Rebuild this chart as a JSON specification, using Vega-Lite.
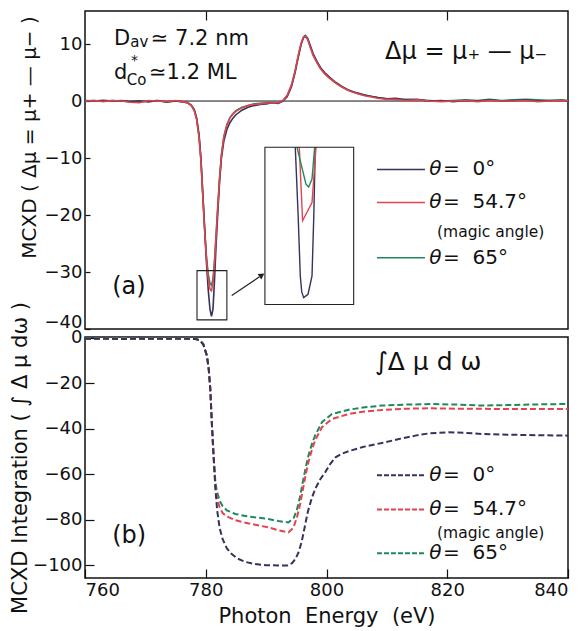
{
"$schema":"https://vega.github.io/schema/vega-lite/v6.json",
"padding":{"left":8,"top":9,"right":12,"bottom":5},
"bounds":"flush",
"spacing":8,
"config":{"font":"DejaVu Sans","view":{"stroke":"#111","strokeWidth":1.5},
 "axis":{"domain":false,"grid":false,"tickColor":"#111","tickWidth":1.2,"labelColor":"#111","titleColor":"#111","labelFontSize":18,"titleFontWeight":"normal"},
 "text":{"font":"DejaVu Sans","color":"#111"}},
"datasets":{
"top":[
{"E":760,"v":0.05,"s":"c"},{"E":761.5,"v":0.1,"s":"c"},{"E":763,"v":0.0,"s":"c"},{"E":764.5,"v":0.1,"s":"c"},{"E":766,"v":0.0,"s":"c"},{"E":767.5,"v":-0.1,"s":"c"},{"E":769,"v":-0.2,"s":"c"},{"E":770.5,"v":0.0,"s":"c"},{"E":772,"v":0.1,"s":"c"},{"E":773.5,"v":-0.1,"s":"c"},{"E":775,"v":0.0,"s":"c"},{"E":776,"v":-0.1,"s":"c"},{"E":777,"v":-0.3,"s":"c"},{"E":777.6,"v":-0.8,"s":"c"},{"E":778.1,"v":-1.6,"s":"c"},{"E":778.5,"v":-3.2,"s":"c"},{"E":778.9,"v":-6.3,"s":"c"},{"E":779.2,"v":-10.3,"s":"c"},{"E":779.5,"v":-16.2,"s":"c"},{"E":779.8,"v":-22,"s":"c"},{"E":780.1,"v":-27,"s":"c"},{"E":780.4,"v":-30.3,"s":"c"},{"E":780.7,"v":-32,"s":"c"},{"E":780.95,"v":-32.3,"s":"c"},{"E":781.2,"v":-31.2,"s":"c"},{"E":781.45,"v":-28,"s":"c"},{"E":781.7,"v":-23.6,"s":"c"},{"E":782.0,"v":-18.3,"s":"c"},{"E":782.3,"v":-13.3,"s":"c"},{"E":782.6,"v":-9.4,"s":"c"},{"E":783.0,"v":-6.2,"s":"c"},{"E":783.5,"v":-4.1,"s":"c"},{"E":784,"v":-2.9,"s":"c"},{"E":784.5,"v":-2.2,"s":"c"},{"E":785,"v":-1.7,"s":"c"},{"E":786,"v":-1.1,"s":"c"},{"E":787,"v":-0.8,"s":"c"},{"E":788,"v":-0.5,"s":"c"},{"E":789,"v":-0.4,"s":"c"},{"E":790,"v":-0.3,"s":"c"},{"E":791,"v":-0.2,"s":"c"},{"E":792,"v":-0.3,"s":"c"},{"E":792.8,"v":0.1,"s":"c"},{"E":793.5,"v":1.0,"s":"c"},{"E":794.2,"v":2.8,"s":"c"},{"E":794.8,"v":5.3,"s":"c"},{"E":795.3,"v":7.8,"s":"c"},{"E":795.8,"v":10.0,"s":"c"},{"E":796.2,"v":11.1,"s":"c"},{"E":796.5,"v":11.3,"s":"c"},{"E":796.9,"v":10.8,"s":"c"},{"E":797.3,"v":9.5,"s":"c"},{"E":797.8,"v":8.0,"s":"c"},{"E":798.4,"v":6.8,"s":"c"},{"E":799,"v":5.7,"s":"c"},{"E":799.7,"v":4.8,"s":"c"},{"E":800.5,"v":4.0,"s":"c"},{"E":801.5,"v":3.2,"s":"c"},{"E":802.5,"v":2.5,"s":"c"},{"E":803.5,"v":2.0,"s":"c"},{"E":804.5,"v":1.6,"s":"c"},{"E":805.5,"v":1.2,"s":"c"},{"E":806.5,"v":1.0,"s":"c"},{"E":807.5,"v":0.8,"s":"c"},{"E":808.5,"v":0.6,"s":"c"},{"E":810,"v":0.4,"s":"c"},{"E":811.5,"v":0.3,"s":"c"},{"E":813,"v":0.3,"s":"c"},{"E":815,"v":0.2,"s":"c"},{"E":817,"v":0.1,"s":"c"},{"E":819,"v":0.0,"s":"c"},{"E":821,"v":0.1,"s":"c"},{"E":823,"v":0.2,"s":"c"},{"E":825,"v":0.1,"s":"c"},{"E":827,"v":0.3,"s":"c"},{"E":829,"v":0.1,"s":"c"},{"E":831,"v":0.2,"s":"c"},{"E":833,"v":0.3,"s":"c"},{"E":835,"v":0.2,"s":"c"},{"E":837,"v":0.1,"s":"c"},{"E":839,"v":0.2,"s":"c"},{"E":840,"v":0.1,"s":"c"},
{"E":760,"v":0.1,"s":"a"},{"E":761.5,"v":0.0,"s":"a"},{"E":763,"v":0.15,"s":"a"},{"E":764.5,"v":0.0,"s":"a"},{"E":766,"v":0.1,"s":"a"},{"E":767.5,"v":-0.1,"s":"a"},{"E":769,"v":0.05,"s":"a"},{"E":770.5,"v":-0.15,"s":"a"},{"E":772,"v":0.1,"s":"a"},{"E":773.5,"v":-0.2,"s":"a"},{"E":775,"v":0.0,"s":"a"},{"E":776,"v":-0.1,"s":"a"},{"E":777,"v":-0.3,"s":"a"},{"E":777.6,"v":-0.7,"s":"a"},{"E":778.1,"v":-1.5,"s":"a"},{"E":778.5,"v":-3,"s":"a"},{"E":778.9,"v":-6,"s":"a"},{"E":779.2,"v":-10,"s":"a"},{"E":779.5,"v":-16,"s":"a"},{"E":779.8,"v":-22,"s":"a"},{"E":780.1,"v":-28,"s":"a"},{"E":780.4,"v":-33,"s":"a"},{"E":780.7,"v":-36.5,"s":"a"},{"E":780.95,"v":-37.8,"s":"a"},{"E":781.2,"v":-36.5,"s":"a"},{"E":781.45,"v":-31.5,"s":"a"},{"E":781.7,"v":-25.5,"s":"a"},{"E":782.0,"v":-19.5,"s":"a"},{"E":782.3,"v":-14,"s":"a"},{"E":782.6,"v":-10,"s":"a"},{"E":783.0,"v":-7,"s":"a"},{"E":783.5,"v":-5,"s":"a"},{"E":784,"v":-3.8,"s":"a"},{"E":784.5,"v":-3,"s":"a"},{"E":785,"v":-2.4,"s":"a"},{"E":786,"v":-1.6,"s":"a"},{"E":787,"v":-1.1,"s":"a"},{"E":788,"v":-0.8,"s":"a"},{"E":789,"v":-0.6,"s":"a"},{"E":790,"v":-0.5,"s":"a"},{"E":791,"v":-0.3,"s":"a"},{"E":792,"v":-0.4,"s":"a"},{"E":792.8,"v":0.0,"s":"a"},{"E":793.5,"v":0.8,"s":"a"},{"E":794.2,"v":2.5,"s":"a"},{"E":794.8,"v":5.0,"s":"a"},{"E":795.3,"v":7.6,"s":"a"},{"E":795.8,"v":10.0,"s":"a"},{"E":796.2,"v":11.2,"s":"a"},{"E":796.5,"v":11.5,"s":"a"},{"E":796.9,"v":11.0,"s":"a"},{"E":797.3,"v":9.8,"s":"a"},{"E":797.8,"v":8.3,"s":"a"},{"E":798.4,"v":7.0,"s":"a"},{"E":799,"v":5.9,"s":"a"},{"E":799.7,"v":5.0,"s":"a"},{"E":800.5,"v":4.2,"s":"a"},{"E":801.5,"v":3.3,"s":"a"},{"E":802.5,"v":2.6,"s":"a"},{"E":803.5,"v":2.0,"s":"a"},{"E":804.5,"v":1.6,"s":"a"},{"E":805.5,"v":1.3,"s":"a"},{"E":806.5,"v":1.0,"s":"a"},{"E":807.5,"v":0.8,"s":"a"},{"E":808.5,"v":0.6,"s":"a"},{"E":810,"v":0.4,"s":"a"},{"E":811.5,"v":0.5,"s":"a"},{"E":813,"v":0.2,"s":"a"},{"E":815,"v":0.3,"s":"a"},{"E":817,"v":0.0,"s":"a"},{"E":819,"v":0.1,"s":"a"},{"E":821,"v":-0.1,"s":"a"},{"E":823,"v":0.1,"s":"a"},{"E":825,"v":0.0,"s":"a"},{"E":827,"v":0.2,"s":"a"},{"E":829,"v":0.0,"s":"a"},{"E":831,"v":0.1,"s":"a"},{"E":833,"v":0.2,"s":"a"},{"E":835,"v":0.0,"s":"a"},{"E":837,"v":0.1,"s":"a"},{"E":839,"v":0.1,"s":"a"},{"E":840,"v":0.0,"s":"a"},
{"E":760,"v":0.0,"s":"b"},{"E":761.5,"v":0.1,"s":"b"},{"E":763,"v":-0.1,"s":"b"},{"E":764.5,"v":0.1,"s":"b"},{"E":766,"v":0.0,"s":"b"},{"E":767.5,"v":-0.2,"s":"b"},{"E":769,"v":-0.3,"s":"b"},{"E":770.5,"v":0.1,"s":"b"},{"E":772,"v":0.0,"s":"b"},{"E":773.5,"v":-0.1,"s":"b"},{"E":775,"v":0.1,"s":"b"},{"E":776,"v":-0.1,"s":"b"},{"E":777,"v":-0.3,"s":"b"},{"E":777.6,"v":-0.8,"s":"b"},{"E":778.1,"v":-1.7,"s":"b"},{"E":778.5,"v":-3.3,"s":"b"},{"E":778.9,"v":-6.5,"s":"b"},{"E":779.2,"v":-10.5,"s":"b"},{"E":779.5,"v":-16.5,"s":"b"},{"E":779.8,"v":-22.5,"s":"b"},{"E":780.1,"v":-27.5,"s":"b"},{"E":780.4,"v":-31,"s":"b"},{"E":780.7,"v":-33,"s":"b"},{"E":780.95,"v":-33.3,"s":"b"},{"E":781.2,"v":-32,"s":"b"},{"E":781.45,"v":-28.5,"s":"b"},{"E":781.7,"v":-24,"s":"b"},{"E":782.0,"v":-18.5,"s":"b"},{"E":782.3,"v":-13.5,"s":"b"},{"E":782.6,"v":-9.5,"s":"b"},{"E":783.0,"v":-6.3,"s":"b"},{"E":783.5,"v":-4.2,"s":"b"},{"E":784,"v":-3.0,"s":"b"},{"E":784.5,"v":-2.3,"s":"b"},{"E":785,"v":-1.8,"s":"b"},{"E":786,"v":-1.2,"s":"b"},{"E":787,"v":-0.8,"s":"b"},{"E":788,"v":-0.6,"s":"b"},{"E":789,"v":-0.5,"s":"b"},{"E":790,"v":-0.4,"s":"b"},{"E":791,"v":-0.3,"s":"b"},{"E":792,"v":-0.3,"s":"b"},{"E":792.8,"v":0.1,"s":"b"},{"E":793.5,"v":1.0,"s":"b"},{"E":794.2,"v":2.8,"s":"b"},{"E":794.8,"v":5.3,"s":"b"},{"E":795.3,"v":7.9,"s":"b"},{"E":795.8,"v":10.2,"s":"b"},{"E":796.2,"v":11.3,"s":"b"},{"E":796.5,"v":11.4,"s":"b"},{"E":796.9,"v":10.8,"s":"b"},{"E":797.3,"v":9.5,"s":"b"},{"E":797.8,"v":8.0,"s":"b"},{"E":798.4,"v":6.8,"s":"b"},{"E":799,"v":5.7,"s":"b"},{"E":799.7,"v":4.8,"s":"b"},{"E":800.5,"v":4.0,"s":"b"},{"E":801.5,"v":3.2,"s":"b"},{"E":802.5,"v":2.5,"s":"b"},{"E":803.5,"v":1.9,"s":"b"},{"E":804.5,"v":1.5,"s":"b"},{"E":805.5,"v":1.2,"s":"b"},{"E":806.5,"v":0.9,"s":"b"},{"E":807.5,"v":0.7,"s":"b"},{"E":808.5,"v":0.5,"s":"b"},{"E":810,"v":0.3,"s":"b"},{"E":811.5,"v":0.3,"s":"b"},{"E":813,"v":0.1,"s":"b"},{"E":815,"v":0.2,"s":"b"},{"E":817,"v":0.0,"s":"b"},{"E":819,"v":-0.1,"s":"b"},{"E":821,"v":0.0,"s":"b"},{"E":823,"v":0.1,"s":"b"},{"E":825,"v":-0.1,"s":"b"},{"E":827,"v":0.1,"s":"b"},{"E":829,"v":0.0,"s":"b"},{"E":831,"v":0.0,"s":"b"},{"E":833,"v":0.1,"s":"b"},{"E":835,"v":-0.1,"s":"b"},{"E":837,"v":0.0,"s":"b"},{"E":839,"v":0.1,"s":"b"},{"E":840,"v":0.0,"s":"b"}
],
"inset":[
{"E":794.83,"v":-8.1,"s":"a"},{"E":795.3,"v":-20,"s":"a"},{"E":795.66,"v":-30.7,"s":"a"},{"E":795.9,"v":-33.5,"s":"a"},{"E":796.22,"v":-34.5,"s":"a"},{"E":796.94,"v":-33.9,"s":"a"},{"E":797.6,"v":-30.7,"s":"a"},{"E":797.9,"v":-20,"s":"a"},{"E":798.14,"v":-8.1,"s":"a"},
{"E":795.49,"v":-8.1,"s":"b"},{"E":796.04,"v":-21.0,"s":"b"},{"E":797.6,"v":-17.8,"s":"b"},{"E":798.26,"v":-8.1,"s":"b"},
{"E":795.11,"v":-8.1,"s":"c"},{"E":796.6,"v":-14.6,"s":"c"},{"E":797.04,"v":-15.1,"s":"c"},{"E":797.6,"v":-13.7,"s":"c"},{"E":798.04,"v":-8.1,"s":"c"}
],
"bot":[
{"E":760,"v":-0.2,"s":"c"},{"E":763,"v":-0.3,"s":"c"},{"E":766,"v":-0.1,"s":"c"},{"E":769,"v":-0.3,"s":"c"},{"E":772,"v":-0.2,"s":"c"},{"E":775,"v":-0.3,"s":"c"},{"E":777,"v":-0.2,"s":"c"},{"E":778.3,"v":-0.4,"s":"c"},{"E":779,"v":-1.0,"s":"c"},{"E":779.6,"v":-2.8,"s":"c"},{"E":780.2,"v":-8,"s":"c"},{"E":780.5,"v":-14,"s":"c"},{"E":780.75,"v":-22.5,"s":"c"},{"E":781.0,"v":-37,"s":"c"},{"E":781.3,"v":-52,"s":"c"},{"E":781.6,"v":-63.5,"s":"c"},{"E":781.9,"v":-68,"s":"c"},{"E":782.3,"v":-71.5,"s":"c"},{"E":782.8,"v":-74,"s":"c"},{"E":783.5,"v":-75.8,"s":"c"},{"E":784.9,"v":-77.4,"s":"c"},{"E":787,"v":-78.5,"s":"c"},{"E":790.4,"v":-79.6,"s":"c"},{"E":792,"v":-80.5,"s":"c"},{"E":793.7,"v":-81.1,"s":"c"},{"E":794.6,"v":-79,"s":"c"},{"E":795.1,"v":-75.5,"s":"c"},{"E":795.6,"v":-70,"s":"c"},{"E":796.1,"v":-63,"s":"c"},{"E":796.6,"v":-56.5,"s":"c"},{"E":797.0,"v":-51.8,"s":"c"},{"E":797.6,"v":-46.5,"s":"c"},{"E":798.1,"v":-43,"s":"c"},{"E":799.25,"v":-37.1,"s":"c"},{"E":800.9,"v":-33.5,"s":"c"},{"E":803.7,"v":-31.6,"s":"c"},{"E":806,"v":-30.7,"s":"c"},{"E":809.2,"v":-29.8,"s":"c"},{"E":813,"v":-29.4,"s":"c"},{"E":817.5,"v":-29.1,"s":"c"},{"E":822,"v":-29.4,"s":"c"},{"E":825.8,"v":-29.8,"s":"c"},{"E":830,"v":-29.6,"s":"c"},{"E":835,"v":-29.3,"s":"c"},{"E":840,"v":-29.1,"s":"c"},
{"E":760,"v":-0.6,"s":"b"},{"E":763,"v":-0.5,"s":"b"},{"E":766,"v":-0.4,"s":"b"},{"E":769,"v":-0.6,"s":"b"},{"E":772,"v":-0.4,"s":"b"},{"E":775,"v":-0.5,"s":"b"},{"E":777,"v":-0.4,"s":"b"},{"E":778.3,"v":-0.6,"s":"b"},{"E":779,"v":-1.2,"s":"b"},{"E":779.6,"v":-3,"s":"b"},{"E":780.2,"v":-8,"s":"b"},{"E":780.5,"v":-14,"s":"b"},{"E":780.75,"v":-22.5,"s":"b"},{"E":781.0,"v":-37,"s":"b"},{"E":781.3,"v":-52,"s":"b"},{"E":781.6,"v":-65,"s":"b"},{"E":781.9,"v":-70.5,"s":"b"},{"E":782.3,"v":-74.5,"s":"b"},{"E":782.8,"v":-77,"s":"b"},{"E":783.5,"v":-78.5,"s":"b"},{"E":784.9,"v":-80.1,"s":"b"},{"E":787,"v":-81.5,"s":"b"},{"E":790.4,"v":-83.3,"s":"b"},{"E":792,"v":-84.5,"s":"b"},{"E":793.7,"v":-85.5,"s":"b"},{"E":794.5,"v":-83.5,"s":"b"},{"E":795.1,"v":-79,"s":"b"},{"E":795.6,"v":-73.5,"s":"b"},{"E":796.1,"v":-66.5,"s":"b"},{"E":796.6,"v":-59.5,"s":"b"},{"E":797.0,"v":-54.7,"s":"b"},{"E":797.6,"v":-49,"s":"b"},{"E":798.1,"v":-45.2,"s":"b"},{"E":799.25,"v":-39.3,"s":"b"},{"E":800.9,"v":-35.7,"s":"b"},{"E":803.7,"v":-33.5,"s":"b"},{"E":806,"v":-32.5,"s":"b"},{"E":809.2,"v":-31.7,"s":"b"},{"E":813,"v":-31.2,"s":"b"},{"E":817.5,"v":-31,"s":"b"},{"E":822,"v":-31.2,"s":"b"},{"E":830,"v":-31.3,"s":"b"},{"E":835,"v":-31.3,"s":"b"},{"E":840,"v":-31.3,"s":"b"},
{"E":760,"v":-0.5,"s":"a"},{"E":763,"v":-0.4,"s":"a"},{"E":766,"v":-0.6,"s":"a"},{"E":769,"v":-0.4,"s":"a"},{"E":772,"v":-0.5,"s":"a"},{"E":775,"v":-0.4,"s":"a"},{"E":777,"v":-0.5,"s":"a"},{"E":778.3,"v":-0.6,"s":"a"},{"E":779,"v":-1.2,"s":"a"},{"E":779.6,"v":-3,"s":"a"},{"E":780.2,"v":-8,"s":"a"},{"E":780.5,"v":-14,"s":"a"},{"E":780.75,"v":-22.5,"s":"a"},{"E":781.0,"v":-37,"s":"a"},{"E":781.3,"v":-52,"s":"a"},{"E":781.6,"v":-66.5,"s":"a"},{"E":781.9,"v":-76,"s":"a"},{"E":782.3,"v":-83.5,"s":"a"},{"E":782.8,"v":-88.5,"s":"a"},{"E":783.5,"v":-92.5,"s":"a"},{"E":784.3,"v":-95,"s":"a"},{"E":785.3,"v":-97,"s":"a"},{"E":786.5,"v":-98.4,"s":"a"},{"E":788.2,"v":-99.4,"s":"a"},{"E":790,"v":-99.9,"s":"a"},{"E":792,"v":-100,"s":"a"},{"E":793.5,"v":-100,"s":"a"},{"E":794.3,"v":-99,"s":"a"},{"E":794.9,"v":-97,"s":"a"},{"E":795.4,"v":-94,"s":"a"},{"E":795.9,"v":-89.5,"s":"a"},{"E":796.4,"v":-83,"s":"a"},{"E":796.9,"v":-76.5,"s":"a"},{"E":797.5,"v":-71,"s":"a"},{"E":798.1,"v":-66.5,"s":"a"},{"E":799,"v":-62,"s":"a"},{"E":799.8,"v":-59,"s":"a"},{"E":800.6,"v":-55.5,"s":"a"},{"E":801.5,"v":-52.5,"s":"a"},{"E":802.5,"v":-51,"s":"a"},{"E":803.7,"v":-49.8,"s":"a"},{"E":806,"v":-48,"s":"a"},{"E":809.2,"v":-46.2,"s":"a"},{"E":812,"v":-44.5,"s":"a"},{"E":814.7,"v":-43,"s":"a"},{"E":817,"v":-42,"s":"a"},{"E":820.2,"v":-41.5,"s":"a"},{"E":823,"v":-41.8,"s":"a"},{"E":825.8,"v":-42.3,"s":"a"},{"E":830,"v":-42.6,"s":"a"},{"E":835,"v":-42.8,"s":"a"},{"E":840,"v":-43,"s":"a"}
]
},
"vconcat":[
{
"width":483,"height":318,
"encoding":{
 "x":{"field":"E","type":"quantitative","scale":{"domain":[760,840],"nice":false,"zero":false},
  "axis":{"orient":"top","labels":false,"title":null,"values":[780,800,820],"tickSize":-9}},
 "y":{"field":"v","type":"quantitative","scale":{"domain":[-40,15.8],"nice":false,"zero":false},
  "axis":{"title":"MCXD ( Δμ\u00a0=\u00a0μ+\u00a0—\u00a0μ− )","values":[-40,-30,-20,-10,0,10],"tickSize":-5,"labelPadding":8,"labelFlush":true,"labelFlushOffset":2,"titleFontSize":20,"titlePadding":5,"titleY":126}}
},
"layer":[
 {"data":{"values":[{"E":760,"E2":840,"v":0}]},"mark":{"type":"rule","color":"#111","strokeWidth":1},"encoding":{"x2":{"field":"E2"}}},
 {"data":{"name":"top"},"mark":{"type":"line","strokeWidth":1.6},
  "encoding":{"color":{"field":"s","type":"nominal","scale":{"domain":["a","b","c"],"range":["#33335c","#e3424e","#1e8a5c"]},"legend":null}}},
 {"data":{"name":"inset"},"mark":{"type":"line","strokeWidth":1.4},
  "encoding":{"color":{"field":"s","type":"nominal","scale":{"domain":["a","b","c"],"range":["#33335c","#e3424e","#1e8a5c"]},"legend":null}}},
 {"data":{"values":[{"E":789.8,"E2":804.5,"v":-8.1,"v2":-35.7},{"E":778.55,"E2":783.5,"v":-29.75,"v2":-38.4}]},
  "mark":{"type":"rect","filled":false,"color":"#222","strokeWidth":1.1},
  "encoding":{"x2":{"field":"E2"},"y2":{"field":"v2"}}},
 {"data":{"values":[{"E":784.3,"v":-34.1},{"E":788.9,"v":-30.85}]},"mark":{"type":"line","color":"#222","strokeWidth":1.2}},
 {"data":{"values":[{"E":789.3,"v":-30.55}]},"mark":{"type":"point","shape":"triangle-up","angle":57,"size":45,"filled":true,"color":"#222","opacity":1}},
 {"data":{"values":[{"E":808.36,"E2":816.31,"v":-12.0,"s":"a"},{"E":808.36,"E2":816.31,"v":-17.8,"s":"b"},{"E":808.36,"E2":816.31,"v":-27.5,"s":"c"}]},
  "mark":{"type":"rule","strokeWidth":1.6},
  "encoding":{"x2":{"field":"E2"},"color":{"field":"s","type":"nominal","scale":{"domain":["a","b","c"],"range":["#33335c","#e3424e","#1e8a5c"]},"legend":null}}},
 {"data":{"values":[{"E":817.0,"v":-12.0,"t":"θ"},{"E":817.0,"v":-17.8,"t":"θ"},{"E":817.0,"v":-27.5,"t":"θ"}]},
  "mark":{"type":"text","fontSize":20,"fontStyle":"italic","align":"left","baseline":"middle"},"encoding":{"text":{"field":"t"}}},
 {"data":{"values":[{"E":819.3,"v":-12.0,"t":"=\u00a0 0°"},{"E":819.3,"v":-17.8,"t":"=\u00a0 54.7°"},{"E":819.3,"v":-27.5,"t":"=\u00a0 65°"}]},
  "mark":{"type":"text","fontSize":20,"align":"left","baseline":"middle"},"encoding":{"text":{"field":"t"}}},
 {"data":{"values":[{"E":818.3,"v":-23.0,"t":"(magic angle)"}]},
  "mark":{"type":"text","fontSize":15.5,"align":"left","baseline":"middle"},"encoding":{"text":{"field":"t"}}},
 {"data":{"values":[{"E":764.8,"v":9.9,"t":"D"},{"E":770.9,"v":9.9,"t":"≃ 7.2 nm"},{"E":764.8,"v":3.9,"t":"d"},{"E":770.6,"v":3.9,"t":"≃1.2 ML"}]},
  "mark":{"type":"text","fontSize":21,"align":"left","baseline":"alphabetic"},"encoding":{"text":{"field":"t"}}},
 {"data":{"values":[{"E":767.5,"v":9.4,"t":"av"},{"E":766.9,"v":2.9,"t":"Co"}]},
  "mark":{"type":"text","fontSize":15,"align":"left","baseline":"alphabetic"},"encoding":{"text":{"field":"t"}}},
 {"data":{"values":[{"E":767.6,"v":6.4,"t":"*"}]},
  "mark":{"type":"text","fontSize":14,"align":"left","baseline":"alphabetic"},"encoding":{"text":{"field":"t"}}},
 {"data":{"values":[{"E":809.7,"v":8.6,"t":"Δμ = μ₊ — μ₋"}]},
  "mark":{"type":"text","fontSize":24,"align":"left","baseline":"middle"},"encoding":{"text":{"field":"t"}}},
 {"data":{"values":[{"E":764.5,"v":-32.7,"t":"(a)"}]},
  "mark":{"type":"text","fontSize":24,"align":"left","baseline":"middle"},"encoding":{"text":{"field":"t"}}}
]
},
{
"width":483,"height":241,
"encoding":{
 "x":{"field":"E","type":"quantitative","scale":{"domain":[760,840],"nice":false,"zero":false},
  "axis":{"title":"Photon\u00a0 Energy\u00a0 (eV)","values":[760,780,800,820,840],"tickSize":-9,"labelPadding":12,"titleFontSize":21,"titlePadding":6}},
 "y":{"field":"v","type":"quantitative","scale":{"domain":[-105.5,0.3],"nice":false,"zero":false},
  "axis":{"title":"MCXD Integration ( ∫\u00a0Δ\u00a0μ\u00a0dω )","values":[-100,-80,-60,-40,-20,0],"tickSize":-9,"labelPadding":12,"titleFontSize":21,"titlePadding":2}}
},
"layer":[
 {"data":{"name":"bot"},"mark":{"type":"line","strokeWidth":2,"strokeDash":[6,3]},
  "encoding":{"color":{"field":"s","type":"nominal","scale":{"domain":["a","b","c"],"range":["#3d3d6e","#e3424e","#1e8a5c"]},"legend":null}}},
 {"data":{"values":[{"E":808.36,"E2":816.31,"v":-60.4,"s":"a"},{"E":808.36,"E2":816.31,"v":-75.4,"s":"b"},{"E":808.36,"E2":816.31,"v":-94.6,"s":"c"}]},
  "mark":{"type":"rule","strokeWidth":2,"strokeDash":[5,2]},
  "encoding":{"x2":{"field":"E2"},"color":{"field":"s","type":"nominal","scale":{"domain":["a","b","c"],"range":["#3d3d6e","#e3424e","#1e8a5c"]},"legend":null}}},
 {"data":{"values":[{"E":817.0,"v":-60.4,"t":"θ"},{"E":817.0,"v":-75.4,"t":"θ"},{"E":817.0,"v":-94.6,"t":"θ"}]},
  "mark":{"type":"text","fontSize":20,"fontStyle":"italic","align":"left","baseline":"middle"},"encoding":{"text":{"field":"t"}}},
 {"data":{"values":[{"E":819.3,"v":-60.4,"t":"=\u00a0 0°"},{"E":819.3,"v":-75.4,"t":"=\u00a0 54.7°"},{"E":819.3,"v":-94.6,"t":"=\u00a0 65°"}]},
  "mark":{"type":"text","fontSize":20,"align":"left","baseline":"middle"},"encoding":{"text":{"field":"t"}}},
 {"data":{"values":[{"E":818.3,"v":-85.6,"t":"(magic angle)"}]},
  "mark":{"type":"text","fontSize":15.5,"align":"left","baseline":"middle"},"encoding":{"text":{"field":"t"}}},
 {"data":{"values":[{"E":808.0,"v":-10.8,"t":"∫Δ μ d ω"}]},
  "mark":{"type":"text","fontSize":25,"align":"left","baseline":"middle"},"encoding":{"text":{"field":"t"}}},
 {"data":{"values":[{"E":764.5,"v":-87,"t":"(b)"}]},
  "mark":{"type":"text","fontSize":24,"align":"left","baseline":"middle"},"encoding":{"text":{"field":"t"}}}
]
}
]
}
